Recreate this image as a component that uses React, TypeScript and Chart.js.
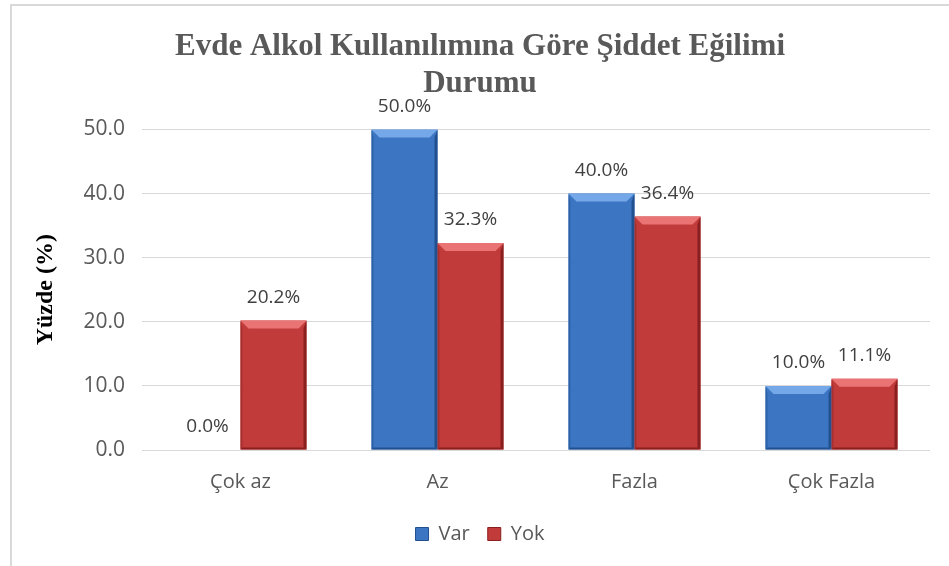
import React, { useEffect, useRef } from "react";
import { Chart, registerables } from "chart.js";

Chart.register(...registerables);

const categories = ["Çok az", "Az", "Fazla", "Çok Fazla"];
const varValues = [0.0, 50.0, 40.0, 10.0];
const yokValues = [20.2, 32.3, 36.4, 11.1];
const seriesNames = ["Var", "Yok"];
const titleLines = ["Evde Alkol Kullanılımına Göre Şiddet Eğilimi", "Durumu"];
const yAxisTitle = "Yüzde (%)";

const SANS = "'Open Sans', 'Noto Sans', sans-serif";
const SERIF = "'Liberation Serif', 'DejaVu Serif', serif";

const palette = [
  { main: "#3C76C2", light: "#74A8E8", dark: "#22508F", edge: "#2D62A8" },
  { main: "#C23B3B", light: "#EA7474", dark: "#8A1F1F", edge: "#A82F2F" },
];

const bevelPlugin = {
  id: "bevel",
  afterDatasetsDraw(chart: any) {
    const ctx = chart.ctx;
    chart.data.datasets.forEach((ds: any, di: number) => {
      const meta = chart.getDatasetMeta(di);
      const p = palette[di];
      meta.data.forEach((bar: any) => {
        const { x, y, base, width } = bar.getProps(["x", "y", "base", "width"], true);
        const h = base - y;
        if (h < 1) return;
        const l = x - width / 2;
        const r = x + width / 2;
        const t = y;
        const b = base;
        const bv = Math.min(8, h / 2);
        ctx.save();
        ctx.fillStyle = p.light;
        ctx.beginPath();
        ctx.moveTo(l, t);
        ctx.lineTo(r, t);
        ctx.lineTo(r - bv, t + bv);
        ctx.lineTo(l + bv, t + bv);
        ctx.closePath();
        ctx.fill();
        ctx.fillStyle = p.dark;
        ctx.beginPath();
        ctx.moveTo(r, t);
        ctx.lineTo(r, b);
        ctx.lineTo(r - 3, b - 2);
        ctx.lineTo(r - 3, t + bv);
        ctx.closePath();
        ctx.fill();
        ctx.fillStyle = p.edge;
        ctx.beginPath();
        ctx.moveTo(l, t);
        ctx.lineTo(l, b);
        ctx.lineTo(l + 2, b - 2);
        ctx.lineTo(l + 2, t + bv);
        ctx.closePath();
        ctx.fill();
        ctx.fillStyle = p.dark;
        ctx.beginPath();
        ctx.moveTo(l, b);
        ctx.lineTo(r, b);
        ctx.lineTo(r - 3, b - 2);
        ctx.lineTo(l + 2, b - 2);
        ctx.closePath();
        ctx.fill();
        ctx.restore();
      });
    });
  },
};

const labelPlugin = {
  id: "valueLabels",
  afterDatasetsDraw(chart: any) {
    const ctx = chart.ctx;
    ctx.save();
    ctx.font = `19px ${SANS}`;
    ctx.fillStyle = "#404040";
    ctx.textAlign = "center";
    ctx.textBaseline = "middle";
    chart.data.datasets.forEach((ds: any, di: number) => {
      const meta = chart.getDatasetMeta(di);
      meta.data.forEach((bar: any, i: number) => {
        const { x, y } = bar.getProps(["x", "y"], true);
        const v = ds.data[i] as number;
        ctx.fillText(`${v.toFixed(1)}%`, x, y - 23);
      });
    });
    ctx.restore();
  },
};

export default function App() {
  const ref = useRef<HTMLCanvasElement | null>(null);

  useEffect(() => {
    document.body.style.margin = "0";
    if (!ref.current) return;
    const chart = new Chart(ref.current, {
      type: "bar",
      data: {
        labels: categories,
        datasets: [
          { label: seriesNames[0], data: varValues, backgroundColor: palette[0].main, borderWidth: 0 },
          { label: seriesNames[1], data: yokValues, backgroundColor: palette[1].main, borderWidth: 0 },
        ],
      },
      plugins: [bevelPlugin, labelPlugin],
      options: {
        responsive: false,
        animation: false,
        devicePixelRatio: 1,
        layout: { padding: { top: 0, right: 19, bottom: 12, left: 30 } },
        datasets: {
          bar: { barPercentage: 1.0, categoryPercentage: 0.67 },
        },
        plugins: {
          title: {
            display: true,
            text: titleLines,
            color: "#595959",
            font: { family: SERIF, size: 31, weight: "bold", lineHeight: 1.2 },
            padding: { top: 28, bottom: 27 },
          },
          legend: {
            position: "bottom",
            labels: {
              color: "#595959",
              font: { family: SANS, size: 20 },
              boxWidth: 13,
              boxHeight: 13,
              padding: 18,
              generateLabels: () =>
                seriesNames.map((n, i) => ({
                  text: n,
                  fillStyle: palette[i].main,
                  strokeStyle: palette[i].dark,
                  lineWidth: 1,
                  fontColor: "#595959",
                  datasetIndex: i,
                  hidden: false,
                })),
            },
          },
          tooltip: { enabled: false },
        },
        scales: {
          x: {
            afterFit: (s: any) => {
              s.height = 56;
            },
            grid: { display: false, drawTicks: false },
            border: { display: false },
            ticks: {
              color: "#595959",
              font: { family: SANS, size: 20 },
              padding: 20,
            },
          },
          y: {
            min: 0,
            max: 50,
            afterFit: (s: any) => {
              s.width = 112;
            },
            grid: { color: "#D9D9D9", lineWidth: 1, drawTicks: false },
            border: { display: false },
            ticks: {
              stepSize: 10,
              color: "#595959",
              font: { family: SANS, size: 21 },
              padding: 17,
              callback: (v: any) => Number(v).toFixed(1),
            },
            title: {
              display: true,
              text: yAxisTitle,
              color: "#000000",
              font: { family: SERIF, size: 24, weight: "bold", lineHeight: 1.2 },
              padding: { top: 1, bottom: 0 },
            },
          },
        },
      },
    });
    return () => chart.destroy();
  }, []);

  return (
    <div style={{ position: "relative", width: 949, height: 566, overflow: "hidden", background: "#fff" }}>
      <div
        style={{
          position: "absolute",
          left: 10,
          top: 4,
          width: 1000,
          height: 700,
          borderLeft: "2px solid #D9D9D9",
          borderTop: "2px solid #D9D9D9",
          boxSizing: "border-box",
        }}
      />
      <canvas ref={ref} width={949} height={566} style={{ position: "absolute", left: 0, top: 0, display: "block" }} />
    </div>
  );
}
